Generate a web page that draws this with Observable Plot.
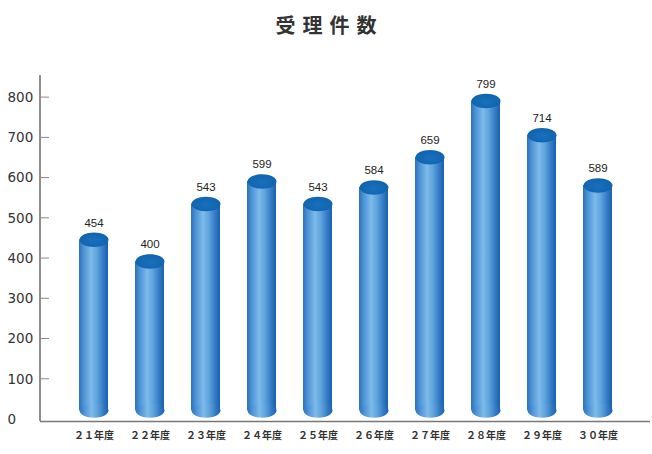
<!DOCTYPE html>
<html><head><meta charset="utf-8">
<script src="https://cdn.jsdelivr.net/npm/d3@7"></script>
<script src="https://cdn.jsdelivr.net/npm/@observablehq/plot@0.6"></script>
<style>
body{margin:0;background:#fff;}
#title{height:48px;line-height:50px;text-align:center;font-family:"Noto Sans CJK JP";font-weight:bold;font-size:20px;letter-spacing:7px;color:#333;padding-left:7px;}
#chart svg{display:block;}
</style></head><body>
<div id="title">受理件数</div>
<div id="chart"></div>
<script>
const categories = ["２１年度","２２年度","２３年度","２４年度","２５年度","２６年度","２７年度","２８年度","２９年度","３０年度"];
const values = [454, 400, 543, 599, 543, 584, 659, 799, 714, 589];
const yTicks = [0, 100, 200, 300, 400, 500, 600, 700, 800];
const data = categories.map((c, i) => ({year: c, count: values[i]}));

const NS = "http://www.w3.org/2000/svg";
const ellipse = {
  draw(ctx, size) {
    const rx = Math.sqrt(size / Math.PI), ry = rx * 0.5, k = 0.5523;
    ctx.moveTo(rx, 0);
    ctx.bezierCurveTo(rx, ry * k, rx * k, ry, 0, ry);
    ctx.bezierCurveTo(-rx * k, ry, -rx, ry * k, -rx, 0);
    ctx.bezierCurveTo(-rx, -ry * k, -rx * k, -ry, 0, -ry);
    ctx.bezierCurveTo(rx * k, -ry, rx, -ry * k, rx, 0);
    ctx.closePath();
  }
};

function defsAndFrame(index, scales, values, dim) {
  const g = document.createElementNS(NS, "g");
  g.innerHTML = `
  <defs>
    <linearGradient id="cyl" x1="0" y1="0" x2="1" y2="0">
      <stop offset="0" stop-color="#2a70bd"/>
      <stop offset="0.15" stop-color="#4b91d4"/>
      <stop offset="0.42" stop-color="#7dbbea"/>
      <stop offset="0.62" stop-color="#5ea2dc"/>
      <stop offset="0.85" stop-color="#2f78c3"/>
      <stop offset="1" stop-color="#1b5fab"/>
    </linearGradient>
    <radialGradient id="top" cx="0.5" cy="0.55" r="0.6">
      <stop offset="0" stop-color="#1a70bc"/>
      <stop offset="1" stop-color="#0e62ae"/>
    </radialGradient>
    <filter id="shadow" x="-30%" y="-10%" width="160%" height="120%">
      <feDropShadow dx="4" dy="2" stdDeviation="2" flood-color="#000" flood-opacity="0.35"/>
    </filter>
  </defs>`;
  const line = document.createElementNS(NS, "line");
  line.setAttribute("x1", dim.marginLeft);
  line.setAttribute("x2", dim.marginLeft);
  line.setAttribute("y1", dim.marginTop);
  line.setAttribute("y2", dim.height - dim.marginBottom + 2);
  line.setAttribute("stroke", "#444");
  line.setAttribute("stroke-width", 1.2);
  g.appendChild(line);
  for (const v of yTicks) {
    if (v === 0) continue;
    const t = document.createElementNS(NS, "line");
    const yy = scales.y(v);
    t.setAttribute("x1", dim.marginLeft);
    t.setAttribute("x2", dim.marginLeft + 9);
    t.setAttribute("y1", yy);
    t.setAttribute("y2", yy);
    t.setAttribute("stroke", "#888");
    t.setAttribute("stroke-width", 1);
    g.appendChild(t);
  }
  return g;
}

const svg = Plot.plot({
  width: 652,
  height: 406,
  marginLeft: 40,
  marginRight: 2,
  marginTop: 27,
  marginBottom: 35,
  x: {domain: categories, paddingInner: 0.485, paddingOuter: 0.65, label: null},
  y: {domain: [0, 855], label: null},
  marks: [
    defsAndFrame,
    Plot.ruleY([0], {stroke: "#777", strokeWidth: 1.3, dy: 2}),
    Plot.axisY(yTicks, {tickSize: 0, tickPadding: 3, textAnchor: "start", dx: -30, fontSize: 13.5, fontFamily: "DejaVu Sans", fill: "#333", label: null}),
    Plot.axisX({tickSize: 0, tickPadding: 12, fontSize: 10, fontFamily: "Noto Sans CJK JP", fontWeight: "bold", fill: "#333", label: null}),
    Plot.barY(data, {x: "year", y: "count", fill: "url(#cyl)", insetBottom: 9, insetTop: 3, ariaLabel: "cyl-body"}),
    Plot.dot(data, {x: "year", y: () => 0, r: 14.5, symbol: ellipse, fill: "url(#cyl)", stroke: "none", dy: -9, ariaLabel: "cyl-bottom"}),
    Plot.dot(data, {x: "year", y: "count", r: 14.5, symbol: ellipse, fill: "url(#top)", stroke: "none", dy: 3, ariaLabel: "cyl-top"}),
    Plot.text(data, {x: "year", y: "count", text: d => String(d.count), dy: -14, fontSize: 11.5, fontFamily: "Liberation Sans", fill: "#222"})
  ]
});

const groups = ["cyl-body", "cyl-bottom", "cyl-top"].map(l => svg.querySelector(`g[aria-label="${l}"]`)).filter(Boolean);
if (groups.length) {
  const wrap = document.createElementNS(NS, "g");
  wrap.setAttribute("filter", "url(#shadow)");
  groups[0].parentNode.insertBefore(wrap, groups[0]);
  groups.forEach(g => wrap.appendChild(g));
}
document.getElementById("chart").appendChild(svg);
</script>
</body></html>
